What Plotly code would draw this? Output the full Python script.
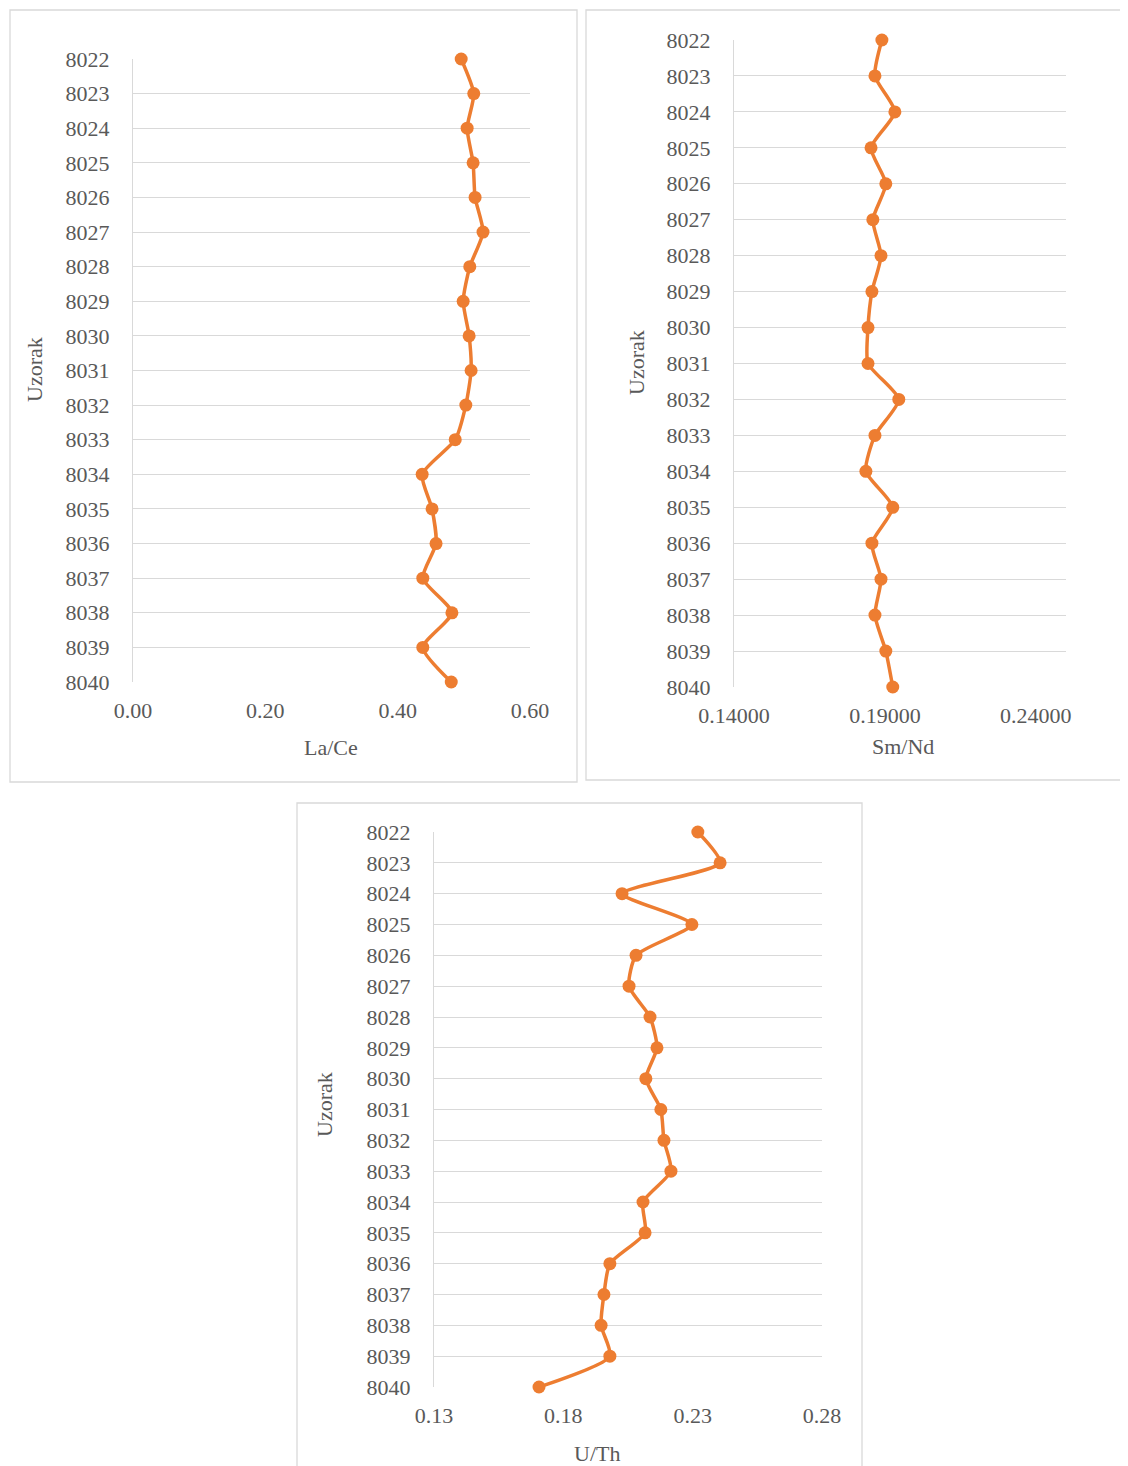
import plotly.graph_objects as go

samples = [str(s) for s in range(8022, 8041)]

la_ce = [0.496, 0.515, 0.505, 0.514, 0.517, 0.529, 0.509, 0.499, 0.508, 0.511,
         0.503, 0.487, 0.437, 0.452, 0.458, 0.438, 0.482, 0.438, 0.481]
sm_nd = [0.1890, 0.1867, 0.1933, 0.1854, 0.1903, 0.1860, 0.1887, 0.1857, 0.1844, 0.1844,
         0.1946, 0.1867, 0.1837, 0.1926, 0.1857, 0.1887, 0.1867, 0.1903, 0.1926]
u_th = [0.2320, 0.2406, 0.2027, 0.2297, 0.2081, 0.2054, 0.2135, 0.2162, 0.2119, 0.2177,
        0.2189, 0.2216, 0.2108, 0.2116, 0.1980, 0.1957, 0.1946, 0.1980, 0.1706]

OFF = 8  # default page margin
W, H = 1128 - OFF, 1466 - OFF
ORANGE = "#ED7D31"
TXT = "#595959"
GRID = "#d9d9d9"
FONT = "Liberation Serif"
FS = 22


def px(x):
    return (x - OFF) / W


def py(y):
    return 1 - (y - OFF) / H


fig = go.Figure()

panels = [
    (la_ce, "", (133, 530), (59, 682), [0, 0.6], 0, 0.2, ".2f", "La/Ce", (331, 747), (35, 370), (10, 10, 577, 782)),
    (sm_nd, "2", (734, 1066), (40, 687), [0.14, 0.25], 0.14, 0.05, ".5f", "Sm/Nd", (903, 746), (636, 363), (586, 10, 1140, 780)),
    (u_th, "3", (434, 822), (832, 1387), [0.13, 0.28], 0.13, 0.05, ".2f", "U/Th", (597, 1453), (324, 1105), (297, 803, 862, 1475)),
]

layout = {}
for vals, ax, xd, yd, rng, t0, dt, fmt, title, tpos, ypos, box in panels:
    fig.add_trace(go.Scatter(
        x=vals, y=samples, mode="lines+markers",
        xaxis="x" + ax, yaxis="y" + ax,
        line=dict(color=ORANGE, width=3.5, shape="spline", smoothing=0.6),
        marker=dict(color=ORANGE, size=13),
        cliponaxis=False, showlegend=False,
    ))
    layout["xaxis" + ax] = dict(
        domain=[px(xd[0]), px(xd[1])], anchor="y" + ax, automargin=False,
        range=[rng[0], rng[1] + 1e-9], tick0=t0, dtick=dt, tickformat=fmt,
        showgrid=False, zeroline=False, showline=False,
        ticks="outside", ticklen=9, tickcolor="rgba(0,0,0,0)",
        tickfont=dict(family=FONT, size=FS, color=TXT),
    )
    layout["yaxis" + ax] = dict(
        domain=[py(yd[1]), py(yd[0])], anchor="x" + ax, automargin=False,
        type="category", categoryorder="array", categoryarray=samples,
        range=[18, 0], showgrid=True, gridcolor=GRID, gridwidth=1.3,
        zeroline=False, showline=True, linecolor=GRID, linewidth=1.3,
        ticks="outside", ticklen=18, tickcolor="rgba(0,0,0,0)",
        tickfont=dict(family=FONT, size=FS, color=TXT),
    )
    fig.add_annotation(text=title, x=px(tpos[0]), y=py(tpos[1]), xref="paper", yref="paper",
                       showarrow=False, xanchor="center", yanchor="middle",
                       font=dict(family=FONT, size=FS, color=TXT))
    fig.add_annotation(text="Uzorak", x=px(ypos[0]), y=py(ypos[1]), xref="paper", yref="paper",
                       showarrow=False, xanchor="center", yanchor="middle", textangle=-90,
                       font=dict(family=FONT, size=FS, color=TXT))
    fig.add_shape(type="rect", xref="paper", yref="paper",
                  x0=px(box[0]), y0=py(box[3]), x1=px(box[2]), y1=py(box[1]),
                  line=dict(color=GRID, width=1.3), fillcolor="rgba(0,0,0,0)", layer="below")

fig.update_layout(
    width=W, height=H, margin=dict(l=0, r=0, t=0, b=0, autoexpand=False),
    paper_bgcolor="white", plot_bgcolor="white",
    **layout,
)

fig.write_html("out.html")
